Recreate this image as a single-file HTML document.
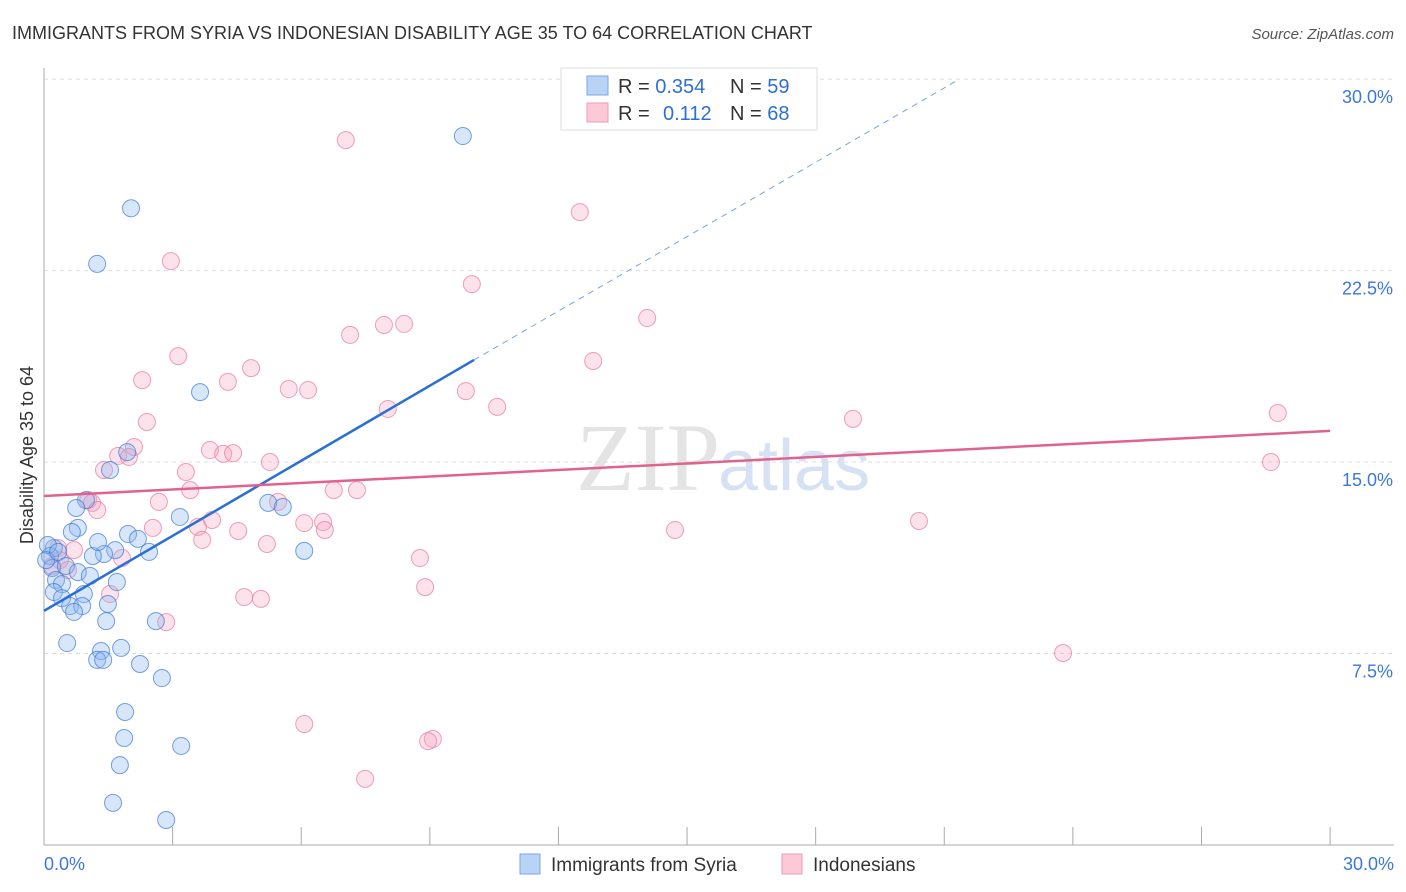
<!DOCTYPE html>
<html><head><meta charset="utf-8"><style>
body{margin:0;background:#fff;font-family:"Liberation Sans",sans-serif;}
svg{display:block}
</style></head><body>
<svg id="chart" width="1406" height="892">
<text x="12" y="39" font-size="18" fill="#333">IMMIGRANTS FROM SYRIA VS INDONESIAN DISABILITY AGE 35 TO 64 CORRELATION CHART</text>
<text x="1394" y="39" font-size="15" fill="#555" font-style="italic" text-anchor="end">Source: ZipAtlas.com</text>
<text x="720" y="490" font-size="96" fill="#e4e4e4" text-anchor="end" font-family="Liberation Serif, serif">ZIP</text>
<text x="718" y="490" font-size="72" fill="#d6e2f3">atlas</text>
<g id="grid"></g><g id="axes"></g><g id="pts"></g><g id="lines"></g>
<text transform="translate(33,455) rotate(-90)" font-size="18" fill="#333" text-anchor="middle">Disability Age 35 to 64</text>
<g>
<rect x="561" y="68" width="256" height="62" fill="#fff" stroke="#ddd"/>
<rect x="587" y="76" width="21" height="19" fill="#b8d3f5" stroke="#7aa7e3"/>
<rect x="587" y="103" width="21" height="19" fill="#fbc9d8" stroke="#ef9bb5"/>
<text x="618" y="93" font-size="20" fill="#333">R = <tspan fill="#2f6fd1">0.354</tspan></text>
<text x="730" y="93" font-size="20" fill="#333">N = <tspan fill="#2f6fd1">59</tspan></text>
<text x="618" y="120" font-size="20" fill="#333">R = </text><text x="663" y="120" font-size="20" fill="#2f6fd1">0.112</text>
<text x="730" y="120" font-size="20" fill="#333">N = <tspan fill="#2f6fd1">68</tspan></text>
</g>
<g>
<rect x="520" y="854" width="20" height="20" fill="#b8d3f5" stroke="#7aa7e3"/>
<text x="551" y="871" font-size="19" fill="#333">Immigrants from Syria</text>
<rect x="782" y="854" width="20" height="20" fill="#fbc9d8" stroke="#ef9bb5"/>
<text x="813" y="871" font-size="19" fill="#333">Indonesians</text>
</g>
</svg>
<script>
const yTicks=[7.5,15,22.5,30];
const yTickLabels=["7.5%","15.0%","22.5%","30.0%"];
const xTicks=[0,3,6,9,12,15,18,21,24,27,30];
const syriaX=[9.77,2.03,1.24,3.64,1.54,1.94,0.98,0.75,0.79,0.65,3.17,5.23,5.57,6.07,1.96,2.19,2.45,1.66,1.4,1.14,1.26,0.23,0.14,0.19,0.51,0.79,1.07,0.28,0.42,1.7,0.23,0.93,0.42,0.61,0.89,0.7,1.49,1.45,2.61,0.54,1.33,1.8,1.24,1.38,2.24,2.75,1.89,1.87,3.2,1.77,1.61,2.85,0.09,0.05,0.33];
const syriaY=[27.77,24.94,22.76,17.74,14.69,15.39,13.51,13.2,12.42,12.26,12.85,13.4,13.24,11.52,12.18,11.99,11.48,11.55,11.4,11.32,11.87,11.63,11.32,10.85,10.93,10.69,10.54,10.38,10.22,10.3,9.91,9.83,9.67,9.36,9.36,9.13,9.44,8.77,8.77,7.91,7.6,7.72,7.25,7.25,7.09,6.54,5.21,4.19,3.88,3.13,1.65,0.98,11.75,11.16,11.48];
const indoX=[7.04,12.5,2.96,9.98,14.07,7.93,8.4,7.14,12.81,3.13,4.83,2.29,4.29,5.71,6.16,9.84,10.57,8.02,18.87,28.78,2.4,2.1,1.73,1.98,3.87,4.18,4.41,5.27,28.62,3.31,1.4,3.41,2.68,1.03,1.12,1.24,6.76,7.3,5.46,3.92,3.59,6.07,6.51,6.55,2.54,4.53,14.72,20.41,3.69,5.2,0.7,0.33,0.37,0.19,0.56,1.82,8.77,8.89,1.54,4.67,5.06,2.85,23.77,6.07,9.07,8.96,7.49];
const indoY=[27.61,24.79,22.87,21.97,20.64,20.37,20.41,19.98,18.96,19.15,18.68,18.21,18.14,17.86,17.82,17.78,17.16,17.08,16.69,16.92,16.57,15.59,15.24,15.2,15.47,15.32,15.35,15.0,15.0,14.61,14.69,13.9,13.44,13.51,13.4,13.12,13.9,13.9,13.44,12.73,12.46,12.61,12.65,12.34,12.42,12.3,12.34,12.69,11.95,11.79,11.55,11.63,11.16,10.93,10.77,11.24,11.24,10.1,9.83,9.71,9.64,8.73,7.52,4.74,4.15,4.07,2.59];
const syriaTrend=[9.17,19.0,29.9];
const syriaTrendX=[0,10.03,21.25];
const indoTrend=[13.67,16.22];
const indoTrendX=[0,30];
const NS="http://www.w3.org/2000/svg";
const sx=v=>44+v*42.87, sy=v=>845-v*25.53;
function mk(tag,attrs,parent){const e=document.createElementNS(NS,tag);for(const k in attrs)e.setAttribute(k,attrs[k]);document.getElementById(parent).appendChild(e);return e;}
yTicks.forEach((t,i)=>{
 const g=mk('line',{x1:44,x2:1394,y1:sy(t),y2:sy(t),stroke:'#ddd','stroke-dasharray':'4,4'},'grid');
 
 
 const l=mk('text',{x:1393,y:sy(t)+24,'font-size':18,fill:'#3b78d8','text-anchor':'end'},'axes');
 l.textContent=yTickLabels[i];
 
 
});
const ya=mk('line',{x1:44,x2:44,y1:68,y2:845,stroke:'#aaa'},'axes');


const xa=mk('line',{x1:44,x2:1394,y1:845,y2:845,stroke:'#aaa'},'axes');


xTicks.forEach(t=>{
 const k=mk('line',{x1:sx(t),x2:sx(t),y1:827,y2:845,stroke:'#aaa'},'axes');
 
 
});
const x0=mk('text',{x:44,y:870,'font-size':18,fill:'#3b78d8'},'axes');x0.textContent=xTicks[0].toFixed(1)+'%';


const x1=mk('text',{x:1394,y:870,'font-size':18,fill:'#3b78d8','text-anchor':'end'},'axes');x1.textContent=xTicks[xTicks.length-1].toFixed(1)+'%';


indoX.forEach((x,i)=>{
 const c=mk('circle',{cx:sx(x),cy:sy(indoY[i]),r:8.5,fill:'rgba(244,160,188,0.3)',stroke:'rgba(232,120,158,0.7)','stroke-width':1},'pts');
 
 
});
syriaX.forEach((x,i)=>{
 const c=mk('circle',{cx:sx(x),cy:sy(syriaY[i]),r:8.5,fill:'rgba(140,182,238,0.35)',stroke:'rgba(60,120,215,0.7)','stroke-width':1},'pts');
 
 
});
const bl=mk('line',{x1:sx(syriaTrendX[0]),y1:sy(syriaTrend[0]),x2:sx(syriaTrendX[1]),y2:sy(syriaTrend[1]),stroke:'#2a6fd6','stroke-width':2.5},'lines');


const bd=mk('line',{x1:sx(syriaTrendX[1]),y1:sy(syriaTrend[1]),x2:sx(syriaTrendX[2]),y2:sy(syriaTrend[2]),stroke:'#7aa3e0','stroke-width':1,'stroke-dasharray':'6,5'},'lines');


const pl=mk('line',{x1:sx(indoTrendX[0]),y1:sy(indoTrend[0]),x2:sx(indoTrendX[1]),y2:sy(indoTrend[1]),stroke:'#e2628e','stroke-width':2.5},'lines');


</script>
</body></html>
